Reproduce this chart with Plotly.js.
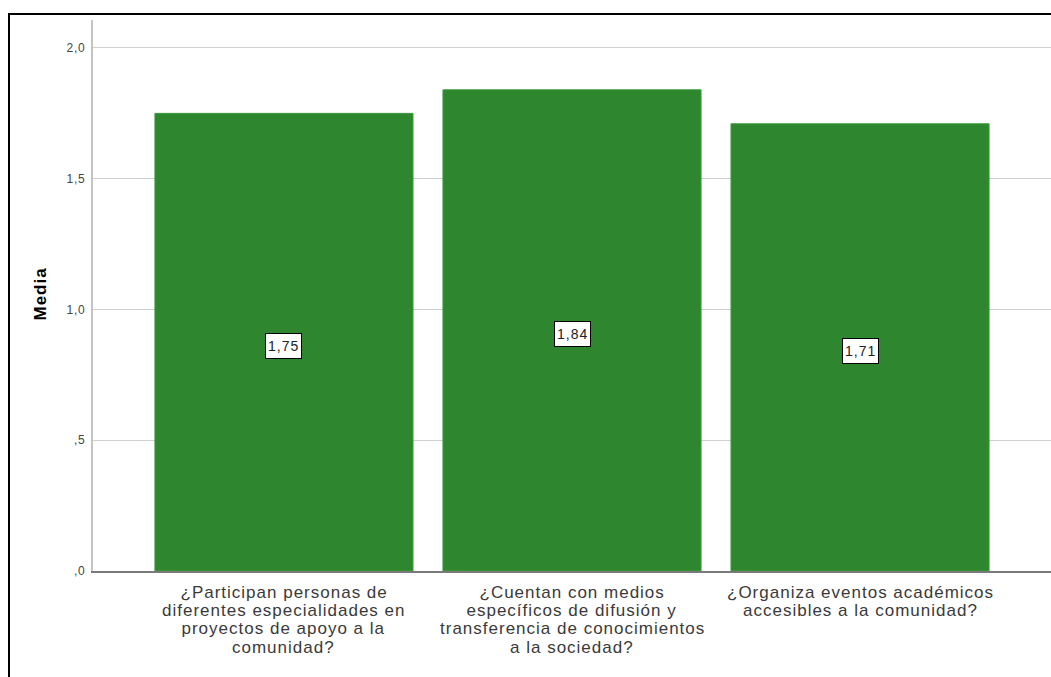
<!DOCTYPE html>
<html>
<head>
<meta charset="utf-8">
<script src="https://cdn.plot.ly/plotly-3.0.1.min.js"></script>
<style>
html,body{margin:0;padding:0;background:#fff;}
#chart{width:1051px;height:677px;}
#chart .annotation-text{letter-spacing:1px;}
#chart .ytick text{letter-spacing:0.8px;}
</style>
</head>
<body>
<div id="chart"></div>
<script>
var categoryLines = [
  ["¿Participan personas de", "diferentes especialidades en", "proyectos de apoyo a la", "comunidad?"],
  ["¿Cuentan con medios", "específicos de difusión y", "transferencia de conocimientos", "a la sociedad?"],
  ["¿Organiza eventos académicos", "accesibles a la comunidad?"]
];
var categories = categoryLines.map(function(l){ return l.join(' '); });
var means = [1.75, 1.84, 1.71];
var tickVals = [0, 0.5, 1.0, 1.5, 2.0];
var tickText = [",0", ",5", "1,0", "1,5", "2,0"];
var yTitle = "Media";

var xIdx = categories.map(function(c, i){ return i; });
var FONT = 'Liberation Sans, Arial, sans-serif';

var trace = {
  type: 'bar',
  x: xIdx,
  y: means,
  text: categories,
  textposition: 'none',
  width: 0.896,
  marker: {color: '#2e872e', line: {color: '#3a9a3a', width: 1}},
  hoverinfo: 'none'
};

var annotations = means.map(function(v, i){
  return {
    x: i, y: v / 2, xref: 'x', yref: 'y',
    text: v.toFixed(2).replace('.', ','),
    showarrow: false,
    yshift: -4,
    bgcolor: '#ffffff',
    bordercolor: '#000000',
    borderwidth: 1,
    borderpad: 4,
    font: {family: FONT, size: 14, color: '#222'}
  };
});

categoryLines.forEach(function(lines, i){
  lines.forEach(function(line, k){
    annotations.push({
      x: i, y: 0, xref: 'x', yref: 'y',
      text: line,
      showarrow: false,
      xanchor: 'center', yanchor: 'middle',
      yshift: -(21 + k * 18.4),
      font: {family: FONT, size: 17, color: '#3a3a3a'}
    });
  });
});

annotations.push({
  x: (40 - 93) / 958, y: (571 - 294) / 551, xref: 'paper', yref: 'paper',
  text: '<b>' + yTitle + '</b>',
  textangle: -90,
  showarrow: false,
  xanchor: 'center', yanchor: 'middle',
  font: {family: FONT, size: 17, color: '#000'}
});

var layout = {
  width: 1051, height: 677,
  margin: {l: 93, r: 0, t: 20, b: 106, pad: 0},
  paper_bgcolor: '#ffffff',
  plot_bgcolor: '#ffffff',
  showlegend: false,
  bargap: 0,
  xaxis: {
    range: [-0.663, 2.663],
    tickmode: 'array',
    tickvals: xIdx,
    ticktext: xIdx.map(function(){ return ''; }),
    showgrid: false,
    zeroline: false,
    showline: true,
    linecolor: '#7a7a7a',
    linewidth: 2,
    ticks: '',
    fixedrange: true
  },
  yaxis: {
    range: [0, 2.107],
    tickmode: 'array',
    tickvals: tickVals,
    ticktext: tickText,
    showgrid: true,
    gridcolor: '#cfcfcf',
    gridwidth: 1,
    zeroline: false,
    showline: true,
    linecolor: '#c4c4c4',
    linewidth: 2,
    ticks: '',
    ticklabelstandoff: 3,
    tickfont: {family: FONT, size: 12, color: '#444'},
    fixedrange: true
  },
  annotations: annotations,
  shapes: [{
    type: 'rect', xref: 'paper', yref: 'paper',
    x0: (9 - 93) / 958, x1: 1.02,
    y0: -0.25, y1: (571 - 14) / 551,
    line: {color: '#000', width: 2},
    fillcolor: 'rgba(0,0,0,0)'
  }]
};

Plotly.newPlot('chart', [trace], layout, {displayModeBar: false, staticPlot: true});
</script>
</body>
</html>
